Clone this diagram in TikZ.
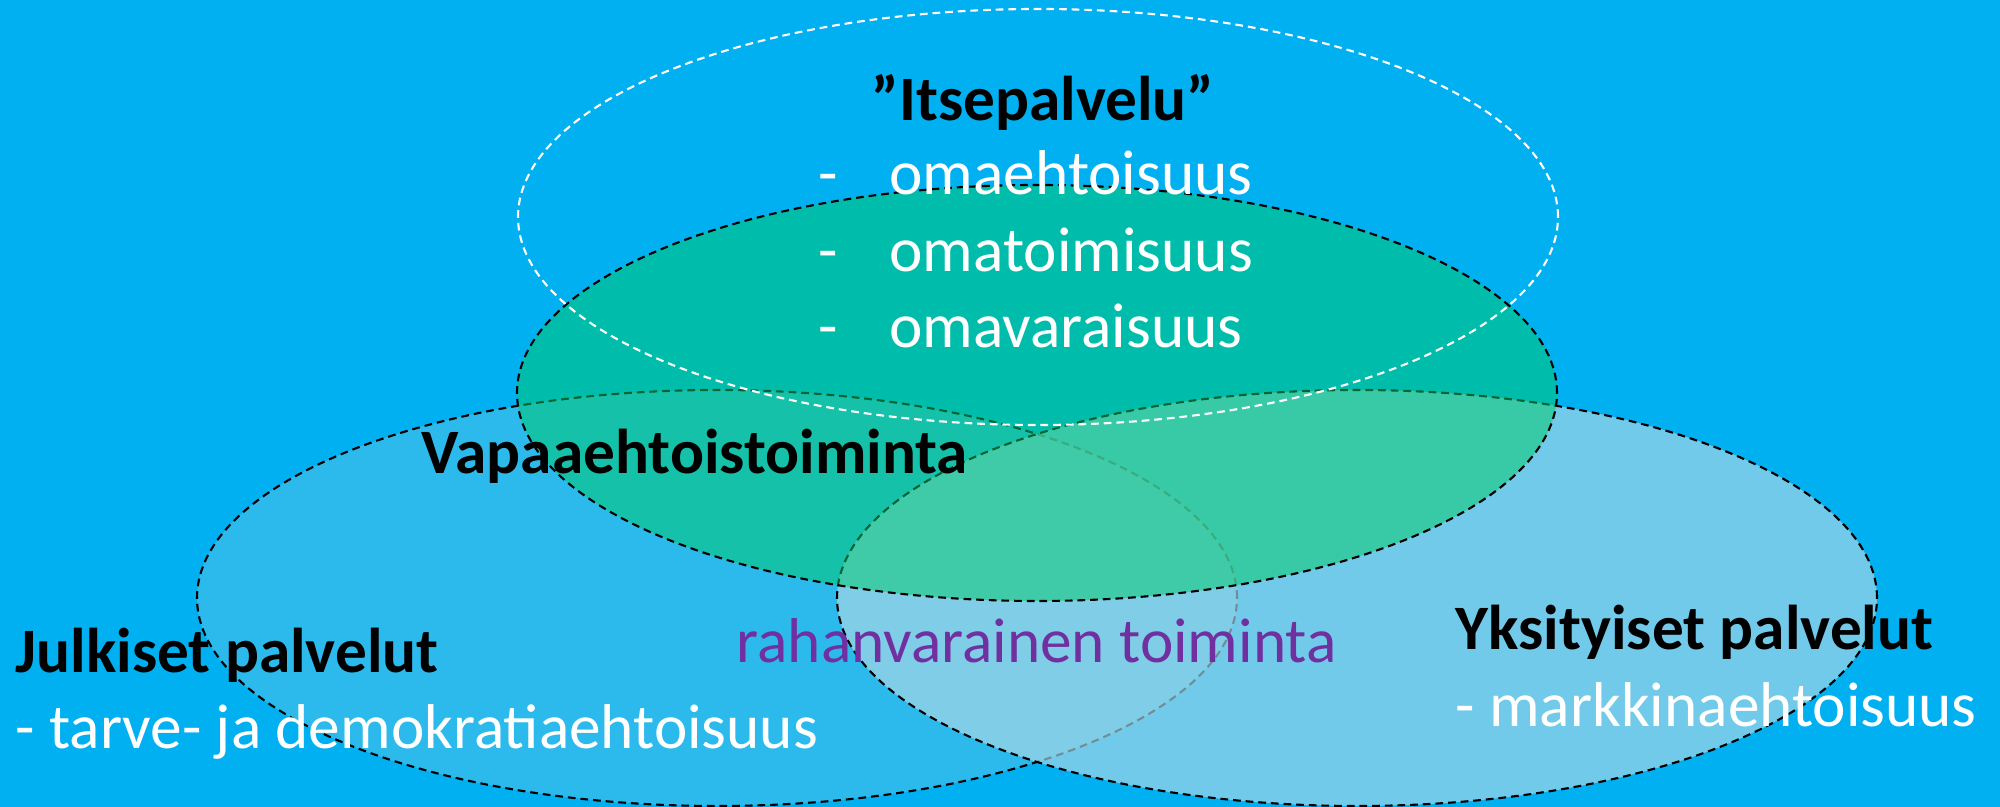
\documentclass[tikz,border=0pt]{standalone}
\usepackage{fontspec}
\setmainfont{Carlito}
\usepackage{tikz}
\usetikzlibrary{positioning}
\definecolor{skyblue}{RGB}{0,176,240}
\definecolor{paleblue}{RGB}{173,216,230}
\definecolor{leafgreen}{RGB}{0,202,103}
\definecolor{plum}{RGB}{112,48,160}

\begin{document}
\begin{tikzpicture}[x=0.01cm,y=0.01cm,
  venn/.style={draw=black,line width=0.6pt,dash pattern=on 2.2pt off 1.4pt},
  txt/.style={anchor=base west,inner sep=0pt,font=\fontsize{18}{22}\selectfont},
  head/.style={txt,font=\fontsize{18}{22}\selectfont\bfseries}]
  % Slide background, fixes the size of the picture as well.
  \fill[skyblue] (0,0) rectangle (2000,807);
  \useasboundingbox (0,0) rectangle (2000,807);
  % Centres of the four ellipses (all of the same size)
  \coordinate (pub)  at (717,209);
  \coordinate (priv) at (1357,209);
  \coordinate (vol)  at (1037,414);
  \coordinate (self) at (1038,590);
  % Public and private services, pale and see-through
  \filldraw[venn,fill=paleblue,fill opacity=0.26] (pub)  ellipse [x radius=520,y radius=208];
  \filldraw[venn,fill=paleblue,fill opacity=0.66] (priv) ellipse [x radius=520,y radius=208];
  % Voluntary work on top of both
  \filldraw[venn,fill=leafgreen,fill opacity=0.5] (vol) ellipse [x radius=520,y radius=208];
  % Self service, only a white dashed outline
  \draw[venn,draw=white] (self) ellipse [x radius=520,y radius=208];
  % Self service heading and its three points
  \node[head,anchor=base] (itse) at (1043,686) {”Itsepalvelu”};
  \node[txt,white] (oma1) at (818,612) {\makebox[1.12em][l]{-}omaehtoisuus};
  \node[txt,white] (oma2) at (818,535) {\makebox[1.12em][l]{-}omatoimisuus};
  \node[txt,white] (oma3) at (818,459) {\makebox[1.12em][l]{-}omavaraisuus};
  % Voluntary work
  \node[head] (vapaa) at (421,333) {Vapaaehtoistoiminta};
  % Money-based activity in the overlap
  \node[txt,plum] (raha) at (736,144) {rahanvarainen toiminta};
  % Public services
  \node[head] (julk) at (15,134) {Julkiset palvelut};
  \node[txt,white] (tarve) at (15,58) {- tarve- ja demokratiaehtoisuus};
  % Private services
  \node[head] (yks) at (1455,157) {Yksityiset palvelut};
  \node[txt,white] (markk) at (1455,80) {- markkinaehtoisuus};
\end{tikzpicture}
\end{document}
